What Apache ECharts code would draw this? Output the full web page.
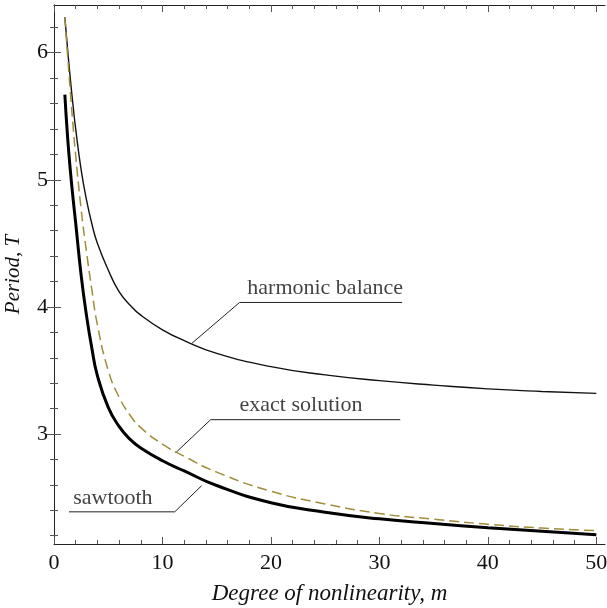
<!DOCTYPE html>
<html><head><meta charset="utf-8">
<script src="https://cdn.jsdelivr.net/npm/echarts@6/dist/echarts.min.js"></script>
<style>html,body{margin:0;padding:0;background:#fff}#c{width:607px;height:608px}</style>
</head><body><div id="c"></div>
<script>
// Degree of nonlinearity m (x) and period T (y)
const mValues        = [1,    1.25, 1.5,  1.75, 2,    2.5,  3,    3.5,  4,    5,    6,    7,     8,     10,   12,    15,    20,   25,    30,    35,    40,    45,    50];
const harmonicBalance= [6.28, 6.03, 5.80, 5.59, 5.40, 5.08, 4.84, 4.65, 4.50, 4.29, 4.12, 4.015, 3.935, 3.82, 3.735, 3.635, 3.53, 3.465, 3.42,  3.385, 3.355, 3.335, 3.32];
const exactSolution  = [6.28, 5.98, 5.70, 5.43, 5.19, 4.77, 4.43, 4.13, 3.86, 3.50, 3.29, 3.15,  3.05,  2.92, 2.825, 2.70,  2.55, 2.45,  2.375, 2.33,  2.29,  2.26,  2.24];
const sawtooth       = [5.67, 5.34, 5.08, 4.86, 4.66, 4.25, 3.93, 3.67, 3.46, 3.21, 3.06, 2.96,  2.89,  2.79, 2.71,  2.595, 2.46, 2.385, 2.333, 2.296, 2.263, 2.235, 2.207];

const xMajorTicks = [0, 10, 20, 30, 40, 50];
const xMinorTicks = [2,4,6,8,12,14,16,18,22,24,26,28,32,34,36,38,42,44,46,48];
const yMajorTicks = [3, 4, 5, 6];
const yMinorTicks = [2.2,2.4,2.6,2.8,3.2,3.4,3.6,3.8,4.2,4.4,4.6,4.8,5.2,5.4,5.6,5.8,6.2];

// annotation leader lines (data coordinates) and labels
const harmonicLeader = [[12.7, 3.713], [17.11, 4.035], [32.1, 4.035]];
const exactLeader    = [[11.22, 2.853], [14.44, 3.113], [31.92, 3.113]];
const sawtoothLeader = [[13.6, 2.593], [11.13, 2.388], [1.38, 2.388]];
const annotationTexts   = ['harmonic balance', 'exact solution', 'sawtooth'];
const annotationAnchors = [[25.0, 4.035], [22.77, 3.113], [5.43, 2.388]];

const X_MIN = 0, X_MAX = 50.8, Y_MIN = 2.135, Y_MAX = 6.375;
const SERIF = 'Liberation Serif';

function pairs(xs, ys) { return xs.map((x, i) => [x, ys[i]]); }

function xAxisDef(pos, ticks, len, withLabel, showLine) {
  return {
    type: 'value', position: pos, min: X_MIN, max: X_MAX,
    splitLine: { show: false },
    axisLine: { show: showLine, lineStyle: { color: '#222', width: 1 } },
    axisTick: { show: true, inside: true, length: len, customValues: ticks, lineStyle: { color: '#555', width: 1 } },
    axisLabel: withLabel ? { show: true, customValues: xMajorTicks, margin: 8, fontFamily: SERIF, fontSize: 22, color: '#111' } : { show: false },
    name: withLabel ? 'Degree of nonlinearity, m' : '',
    nameLocation: 'middle', nameGap: 38,
    nameTextStyle: { fontFamily: SERIF, fontStyle: 'italic', fontSize: 23, color: '#111' }
  };
}
function yAxisDef(pos, ticks, len, withLabel, showLine) {
  return {
    type: 'value', position: pos, min: Y_MIN, max: Y_MAX,
    splitLine: { show: false },
    axisLine: { show: showLine, lineStyle: { color: '#222', width: 1 } },
    axisTick: { show: true, inside: true, length: len, customValues: ticks, lineStyle: { color: '#555', width: 1 } },
    axisLabel: withLabel ? { show: true, customValues: yMajorTicks, margin: 6, fontFamily: SERIF, fontSize: 22, color: '#111' } : { show: false },
    name: withLabel ? 'Period, T' : '',
    nameLocation: 'middle', nameGap: 30, nameRotate: 90,
    nameTextStyle: { fontFamily: SERIF, fontStyle: 'italic', fontSize: 21, color: '#111' }
  };
}

const leaderStyle = { color: '#222', width: 1 };
function leader(data) {
  return { type: 'line', data: data, showSymbol: false, symbol: 'none', silent: true, animation: false,
           lineStyle: leaderStyle, z: 3 };
}

const chart = echarts.init(document.getElementById('c'), null, { renderer: 'canvas' });
chart.setOption({
  animation: false,
  backgroundColor: '#fff',
  grid: { left: 54, right: 2, top: 5, bottom: 64, containLabel: false, outerBoundsMode: 'none' },
  xAxis: [
    xAxisDef('bottom', xMajorTicks, 7, true, true),
    xAxisDef('bottom', xMinorTicks, 4, false, false),
    xAxisDef('top', xMajorTicks, 7, false, true),
    xAxisDef('top', xMinorTicks, 4, false, false)
  ],
  yAxis: [
    yAxisDef('left', yMajorTicks, 7, true, true),
    yAxisDef('left', yMinorTicks, 4, false, false),
    yAxisDef('right', yMajorTicks, 7, false, true),
    yAxisDef('right', yMinorTicks, 4, false, false)
  ],
  series: [
    { name: 'harmonic balance', type: 'line', data: pairs(mValues, harmonicBalance), smooth: 0.5,
      showSymbol: false, symbol: 'none', lineStyle: { color: '#111', width: 1.4 }, z: 4 },
    { name: 'exact solution', type: 'line', data: pairs(mValues, exactSolution), smooth: 0.5,
      showSymbol: false, symbol: 'none', lineStyle: { color: '#9e8d3a', width: 1.5, type: [10, 5] }, z: 4 },
    { name: 'sawtooth', type: 'line', data: pairs(mValues, sawtooth), smooth: 0.5,
      showSymbol: false, symbol: 'none', lineStyle: { color: '#000', width: 3 }, z: 5 },
    leader(harmonicLeader),
    leader(exactLeader),
    leader(sawtoothLeader),
    { type: 'scatter', symbolSize: 0, silent: true, z: 6,
      data: annotationAnchors.map((p, i) => ({ value: p, name: annotationTexts[i] })),
      label: { show: true, position: 'top', distance: 3, formatter: p => p.name,
               fontFamily: SERIF, fontSize: 22, color: '#111' } }
  ]
});
</script>
</body></html>
